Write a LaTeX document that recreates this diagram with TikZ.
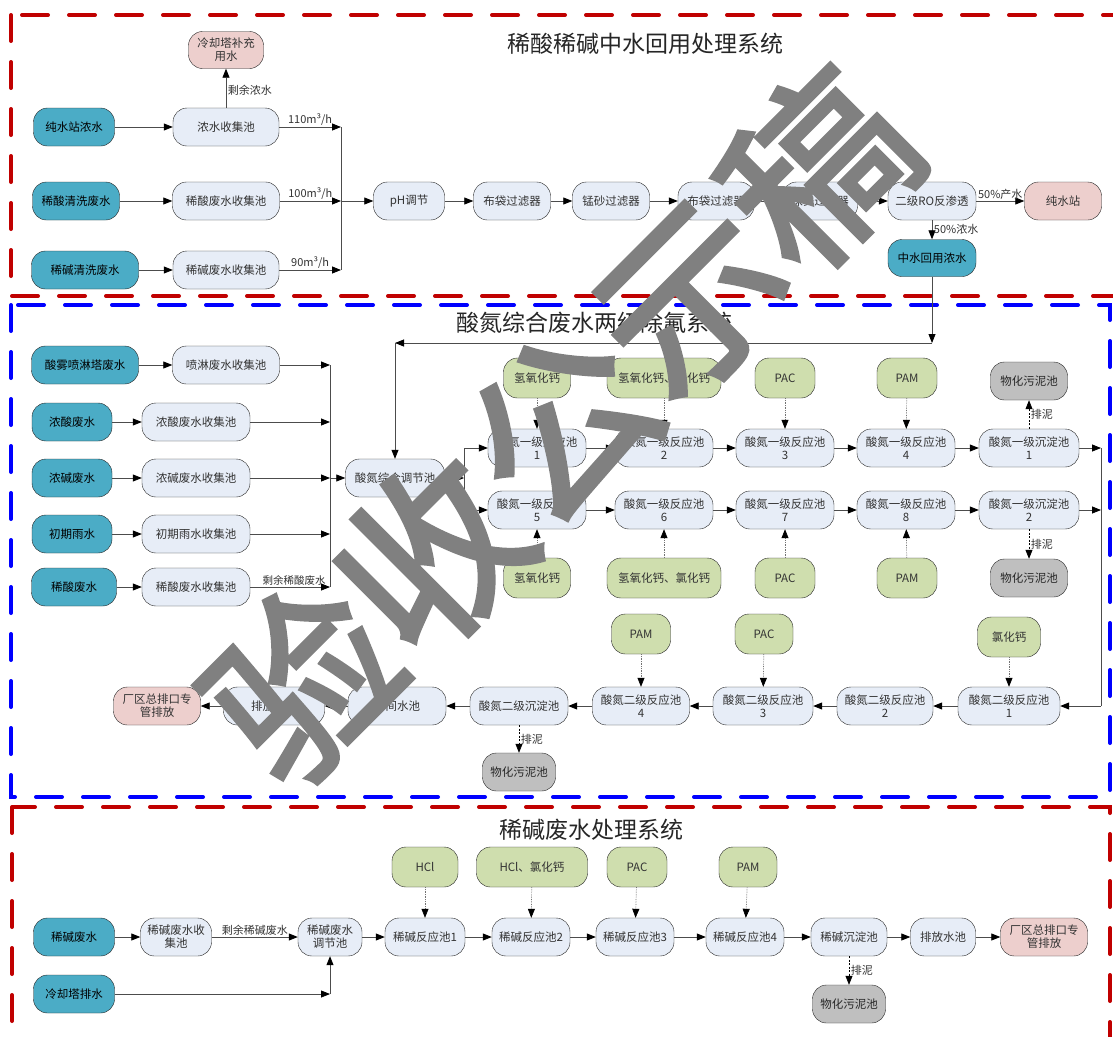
\documentclass[tikz,border=0pt]{standalone}
\usepackage{fontspec}
\setmainfont{Noto Sans CJK SC}
\newfontfamily\markfont[RawFeature={embolden=2.5}]{Noto Sans CJK SC}
\usetikzlibrary{arrows.meta}

\definecolor{poolblue}{HTML}{E7EDF7}
\definecolor{srcteal}{HTML}{4BACC6}
\definecolor{dosegreen}{HTML}{CFDEAE}
\definecolor{sludgegray}{HTML}{BFBFBF}
\definecolor{outpink}{HTML}{EDCFCD}
\definecolor{framered}{HTML}{C00000}
\definecolor{frameblue}{HTML}{0000FF}
\definecolor{wmgray}{HTML}{808080}

\tikzset{pool/.style={draw=black!85,thin,rounded corners=14pt,minimum height=38pt,inner sep=1pt,align=center,fill=poolblue,text=black!80,font=\fontsize{11.5}{13}\selectfont},
         source/.style={pool,fill=srcteal,text=black},
         dose/.style={pool,fill=dosegreen,minimum height=40pt},
         sludge/.style={pool,fill=sludgegray,text=black!85},
         outlet/.style={pool,fill=outpink},
         flow/.style={draw=black!70,line width=0.8pt,-{Triangle[length=9pt,width=7pt,color=black]}},
         pipe/.style={draw=black!70,line width=0.8pt},
         feed/.style={draw=black!55,densely dotted,line width=0.7pt,-{Triangle[length=9pt,width=7pt,color=black]}},
         mud/.style={draw=black,dashed,dash pattern=on 2pt off 1.5pt,line width=0.7pt,-{Triangle[length=9pt,width=7pt,color=black]}},
         lbl/.style={font=\fontsize{11}{12}\selectfont,text=black!80,inner sep=1.5pt},
         title/.style={font=\fontsize{23}{25}\selectfont,text=black!85},
         frame/.style={line width=4pt,line cap=round,dash pattern=on 26pt off 21pt}}

\begin{document}
\begin{tikzpicture}[x=1pt,y=-1pt]
                  \useasboundingbox[fill=white] (0,0) rectangle (1113,1036);

                  \draw[frame,framered] (11,15) rectangle (1135,296);
                  \draw[frame,frameblue] (11,305) rectangle (1110,797);
                  \draw[frame,framered] (12,807) rectangle (1110,1060);

                  \node[title] (t1) at (645,44) {稀酸稀碱中水回用处理系统};
                  \node[title] (t2) at (594,323) {酸氮综合废水两级除氟系统};
                  \node[title] (t3) at (591,830) {稀碱废水处理系统};

                  \node[outlet,minimum width=75pt,minimum height=37pt] (lq) at (226,50) {冷却塔补充\\用水};
                  \node[source,minimum width=81pt] (cs) at (74,127) {纯水站浓水};
                  \node[pool,minimum width=106pt] (ns) at (226,127) {浓水收集池};
                  \node[source,minimum width=87pt] (xsq) at (76,201) {稀酸清洗废水};
                  \node[pool,minimum width=107pt] (xsj) at (226,201) {稀酸废水收集池};
                  \node[source,minimum width=107pt] (xjq) at (85,270) {稀碱清洗废水};
                  \node[pool,minimum width=106pt] (xjj) at (226,270) {稀碱废水收集池};
                  \node[pool,minimum width=71pt] (ph) at (409,201) {pH调节};
                  \node[pool,minimum width=77pt] (bd1) at (512,201) {布袋过滤器};
                  \node[pool,minimum width=77pt] (ms) at (611,201) {锰砂过滤器};
                  \node[pool,minimum width=76pt] (bd2) at (716,201) {布袋过滤器};
                  \node[pool,minimum width=75pt] (ba) at (820,201) {保安过滤器};
                  \node[pool,minimum width=88pt] (ro) at (932,201) {二级RO反渗透};
                  \node[outlet,minimum width=77pt] (cz) at (1063,201) {纯水站};
                  \node[source,minimum width=88pt,minimum height=37pt] (zs) at (932,258) {中水回用浓水};

                  \coordinate (ja) at (341,127);
                  \coordinate (jb) at (341,201);
                  \coordinate (jc) at (341,270);
                  \draw[flow] (cs) -- (ns);
                  \draw[flow] (xsq) -- (xsj);
                  \draw[flow] (xjq) -- (xjj);
                  \draw[flow] (ns) -- node[lbl,right,pos=0.45] {剩余浓水} (lq);
                  \draw[flow] (ns) -- node[lbl,above] {110m³/h} (ja);
                  \draw[flow] (xsj) -- node[lbl,above] {100m³/h} (jb);
                  \draw[flow] (xjj) -- node[lbl,above] {90m³/h} (jc);
                  \draw[pipe] (ja) -- (jc);
                  \draw[flow] (jb) -- (ph);
                  \draw[flow] (ph) -- (bd1);
                  \draw[flow] (bd1) -- (ms);
                  \draw[flow] (ms) -- (bd2);
                  \draw[flow] (bd2) -- (ba);
                  \draw[flow] (ba) -- (ro);
                  \draw[flow] (ro) -- node[lbl,above] {50\%产水} (cz);
                  \draw[flow] (ro) -- node[lbl,right] {50\%浓水} (zs);

                  \node[source,minimum width=107pt] (sw) at (85,365) {酸雾喷淋塔废水};
                  \node[pool,minimum width=107pt] (plj) at (226,365) {喷淋废水收集池};
                  \node[source,minimum width=80pt] (nsf) at (72,422) {浓酸废水};
                  \node[pool,minimum width=108pt] (nsj) at (196,422) {浓酸废水收集池};
                  \node[source,minimum width=80pt] (njf) at (72,478) {浓碱废水};
                  \node[pool,minimum width=108pt] (njj) at (196,478) {浓碱废水收集池};
                  \node[source,minimum width=80pt] (cqy) at (72,534) {初期雨水};
                  \node[pool,minimum width=108pt] (cqj) at (196,534) {初期雨水收集池};
                  \node[source,minimum width=85pt] (xsf) at (74,587) {稀酸废水};
                  \node[pool,minimum width=108pt] (xsfj) at (196,587) {稀酸废水收集池};
                  \node[pool,minimum width=99pt] (tj) at (395,478) {酸氮综合调节池};

                  \foreach \n/\x in {1/537,2/664,3/785,4/906}
                    \node[pool,minimum width=98pt] (ra\n) at (\x,448) {酸氮一级反应池\\\n};
                  \foreach \n/\x in {5/537,6/664,7/785,8/906}
                    \node[pool,minimum width=98pt] (rb\n) at (\x,510) {酸氮一级反应池\\\n};
                  \node[pool,minimum width=100pt] (cd1) at (1029,448) {酸氮一级沉淀池\\1};
                  \node[pool,minimum width=100pt] (cd2) at (1029,510) {酸氮一级沉淀池\\2};

                  \node[dose,minimum width=67pt] (da1) at (537,378) {氢氧化钙};
                  \node[dose,minimum width=114pt] (da2) at (664,378) {氢氧化钙、氯化钙};
                  \node[dose,minimum width=60pt] (da3) at (785,378) {PAC};
                  \node[dose,minimum width=60pt] (da4) at (907,378) {PAM};
                  \node[sludge,minimum width=77pt] (wn1) at (1029,381) {物化污泥池};
                  \node[dose,minimum width=67pt] (db5) at (537,578) {氢氧化钙};
                  \node[dose,minimum width=114pt] (db6) at (664,578) {氢氧化钙、氯化钙};
                  \node[dose,minimum width=60pt] (db7) at (785,578) {PAC};
                  \node[dose,minimum width=60pt] (db8) at (907,578) {PAM};
                  \node[sludge,minimum width=77pt] (wn2) at (1029,578) {物化污泥池};

                  \node[pool,minimum width=102pt] (eb1) at (1009,706) {酸氮二级反应池\\1};
                  \node[pool,minimum width=96pt] (eb2) at (885,706) {酸氮二级反应池\\2};
                  \node[pool,minimum width=100pt] (eb3) at (763,706) {酸氮二级反应池\\3};
                  \node[pool,minimum width=97pt] (eb4) at (641,706) {酸氮二级反应池\\4};
                  \node[pool,minimum width=98pt] (ecd) at (519,706) {酸氮二级沉淀池};
                  \node[pool,minimum width=98pt] (zjc) at (397,706) {中间水池};
                  \node[pool,minimum width=101pt] (pfc) at (274,706) {排放水池};
                  \node[outlet,minimum width=87pt] (zpk) at (157,706) {厂区总排口专\\管排放};
                  \node[dose,minimum width=63pt] (de1) at (1009,637) {氯化钙};
                  \node[dose,minimum width=58pt] (de3) at (764,634) {PAC};
                  \node[dose,minimum width=59pt] (de4) at (641,634) {PAM};
                  \node[sludge,minimum width=73pt] (wn3) at (519,772) {物化污泥池};

                  \foreach \a/\y in {plj/365,nsj/422,njj/478,cqj/534,xsfj/587}
                    \coordinate (k\a) at (330,\y);
                  \draw[flow] (sw) -- (plj);
                  \draw[flow] (nsf) -- (nsj);
                  \draw[flow] (njf) -- (njj);
                  \draw[flow] (cqy) -- (cqj);
                  \draw[flow] (xsf) -- (xsfj);
                  \draw[flow] (plj) -- (kplj);
                  \draw[flow] (nsj) -- (knsj);
                  \draw[flow] (njj) -- (knjj);
                  \draw[flow] (cqj) -- (kcqj);
                  \draw[flow] (xsfj) -- node[lbl,above,font=\fontsize{10.5}{12}\selectfont,pos=0.55] {剩余稀酸废水} (kxsfj);
                  \draw[pipe] (kplj) -- (kxsfj);
                  \draw[flow] (knjj) -- (tj);

                  \coordinate (fb1) at (932,343);
                  \coordinate (fb2) at (395,343);
                  \draw[flow] (zs) -- (fb1);
                  \draw[flow] (fb1) -- (fb2);
                  \draw[flow] (fb2) -- (tj);

                  \coordinate (sp) at (464,478);
                  \coordinate (spa) at (464,448);
                  \coordinate (spb) at (464,510);
                  \draw[flow] (tj) -- (sp);
                  \draw[pipe] (spa) -- (spb);
                  \draw[flow] (spa) -- (ra1);
                  \draw[flow] (spb) -- (rb5);
                  \draw[flow] (ra1) -- (ra2);
                  \draw[flow] (ra2) -- (ra3);
                  \draw[flow] (ra3) -- (ra4);
                  \draw[flow] (ra4) -- (cd1);
                  \draw[flow] (rb5) -- (rb6);
                  \draw[flow] (rb6) -- (rb7);
                  \draw[flow] (rb7) -- (rb8);
                  \draw[flow] (rb8) -- (cd2);
                  \draw[feed] (da1) -- (ra1);
                  \draw[feed] (da2) -- (ra2);
                  \draw[feed] (da3) -- (ra3);
                  \draw[feed] (da4) -- (ra4);
                  \draw[feed] (db5) -- (rb5);
                  \draw[feed] (db6) -- (rb6);
                  \draw[feed] (db7) -- (rb7);
                  \draw[feed] (db8) -- (rb8);
                  \draw[mud] (cd1) -- node[lbl,right] {排泥} (wn1);
                  \draw[mud] (cd2) -- node[lbl,right] {排泥} (wn2);

                  \coordinate (rc1) at (1101,448);
                  \coordinate (rc2) at (1101,510);
                  \coordinate (rc3) at (1101,706);
                  \draw[flow] (cd1) -- (rc1);
                  \draw[flow] (cd2) -- (rc2);
                  \draw[pipe] (rc1) -- (rc3);
                  \draw[flow] (rc3) -- (eb1);
                  \draw[flow] (eb1) -- (eb2);
                  \draw[flow] (eb2) -- (eb3);
                  \draw[flow] (eb3) -- (eb4);
                  \draw[flow] (eb4) -- (ecd);
                  \draw[flow] (ecd) -- (zjc);
                  \draw[flow] (zjc) -- (pfc);
                  \draw[flow] (pfc) -- (zpk);
                  \draw[feed] (de1) -- (eb1);
                  \draw[feed] (de3) -- (eb3);
                  \draw[feed] (de4) -- (eb4);
                  \draw[mud] (ecd) -- node[lbl,right] {排泥} (wn3);

                  \node[source,minimum width=81pt] (jf) at (74,937) {稀碱废水};
                  \node[pool,minimum width=71pt] (jj) at (176,937) {稀碱废水收\\集池};
                  \node[pool,minimum width=64pt] (jt) at (330,937) {稀碱废水\\调节池};
                  \node[pool,minimum width=80pt] (jr1) at (425,937) {稀碱反应池1};
                  \node[pool,minimum width=78pt] (jr2) at (531,937) {稀碱反应池2};
                  \node[pool,minimum width=78pt] (jr3) at (635,937) {稀碱反应池3};
                  \node[pool,minimum width=78pt] (jr4) at (745,937) {稀碱反应池4};
                  \node[pool,minimum width=76pt] (jcd) at (849,937) {稀碱沉淀池};
                  \node[pool,minimum width=65pt] (jpf) at (943,937) {排放水池};
                  \node[outlet,minimum width=87pt] (jzp) at (1044,937) {厂区总排口专\\管排放};
                  \node[source,minimum width=81pt] (lt) at (74,994) {冷却塔排水};
                  \node[sludge,minimum width=73pt] (wn4) at (849,1004) {物化污泥池};
                  \node[dose,minimum width=66pt] (dh1) at (425,867) {HCl};
                  \node[dose,minimum width=111pt] (dh2) at (532,867) {HCl、氯化钙};
                  \node[dose,minimum width=60pt] (dh3) at (637,867) {PAC};
                  \node[dose,minimum width=58pt] (dh4) at (748,867) {PAM};

                  \coordinate (ct) at (330,994);
                  \draw[flow] (jf) -- (jj);
                  \draw[flow] (jj) -- node[lbl,above] {剩余稀碱废水} (jt);
                  \draw[flow] (jt) -- (jr1);
                  \draw[flow] (jr1) -- (jr2);
                  \draw[flow] (jr2) -- (jr3);
                  \draw[flow] (jr3) -- (jr4);
                  \draw[flow] (jr4) -- (jcd);
                  \draw[flow] (jcd) -- (jpf);
                  \draw[flow] (jpf) -- (jzp);
                  \draw[flow] (lt) -- (ct);
                  \draw[flow] (ct) -- (jt);
                  \draw[feed] (dh1) -- (jr1);
                  \draw[feed] (dh2) -- (jr2);
                  \draw[feed] (dh3) -- (jr3);
                  \draw[feed] (dh4) -- (jr4);
                  \draw[mud] (jcd) -- node[lbl,right] {排泥} (wn4);

                  \node[rotate=45,text=wmgray,font=\markfont\fontsize{182}{182}\selectfont] (wm) at (560,425) {验收公示稿};
              \end{tikzpicture}
\end{document}
